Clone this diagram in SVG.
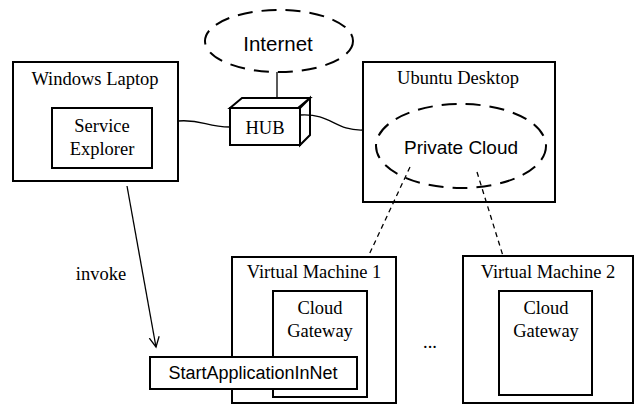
<svg xmlns="http://www.w3.org/2000/svg" width="634" height="404" viewBox="0 0 634 404">
  <style>
    .box { fill: #fff; stroke: #000; stroke-width: 2; }
    .cloud { fill: none; stroke: #000; stroke-width: 2; stroke-dasharray: 15 9; }
    .wire { fill: none; stroke: #000; stroke-width: 1.3; }
    .link { fill: none; stroke: #000; stroke-width: 1.3; stroke-dasharray: 5 4; }
    .serif { font-family: "Liberation Serif", "Times New Roman", serif; font-size: 18.5px; fill: #000; text-anchor: middle; }
    .sans { font-family: "Liberation Sans", Arial, sans-serif; font-size: 18px; fill: #000; text-anchor: middle; }
  </style>
  <defs>
    <marker id="open-arrow" markerWidth="12" markerHeight="12" refX="10" refY="6" orient="auto" markerUnits="userSpaceOnUse">
      <polyline points="0,1 10,6 0,11" fill="none" stroke="#000" stroke-width="1.3"/>
    </marker>
  </defs>
  <rect width="634" height="404" fill="#fff"/>

  <g id="internet">
    <ellipse class="cloud" cx="279" cy="41" rx="74" ry="31"/>
    <text class="sans" x="278" y="51" style="font-size:20.5px">Internet</text>
  </g>

  <g id="hub">
    <polygon class="box" points="230,108 242,98 310,98 298,108"/>
    <polygon class="box" points="300,108 310,98 310,135 300,145"/>
    <rect class="box" x="230" y="108" width="70" height="37"/>
    <text class="serif" x="265" y="134">HUB</text>
  </g>

  <g id="windows-laptop">
    <rect class="box" x="13" y="62" width="165" height="119"/>
    <text class="serif" x="95" y="85">Windows Laptop</text>
  </g>

  <g id="service-explorer">
    <rect class="box" x="52" y="108" width="100" height="60"/>
    <text class="serif" x="102" y="132">Service</text>
    <text class="serif" x="102" y="155">Explorer</text>
  </g>

  <g id="ubuntu-desktop">
    <rect class="box" x="363" y="62" width="192" height="140"/>
    <text class="serif" x="458" y="84">Ubuntu Desktop</text>
  </g>

  <g id="private-cloud">
    <ellipse class="cloud" cx="461" cy="146" rx="85" ry="42"/>
    <text class="sans" x="461" y="154" style="font-size:19px">Private Cloud</text>
  </g>

  <g id="vm1">
    <rect class="box" x="232" y="257" width="164" height="146"/>
    <text class="serif" x="314" y="278">Virtual Machine 1</text>
  </g>

  <g id="cloud-gateway-1">
    <rect class="box" x="273" y="291" width="94" height="106"/>
    <text class="serif" x="320" y="314">Cloud</text>
    <text class="serif" x="320" y="337">Gateway</text>
  </g>

  <g id="start-application">
    <rect class="box" x="150" y="357" width="207" height="32"/>
    <text class="sans" x="253" y="379">StartApplicationInNet</text>
  </g>

  <g id="ellipsis">
    <text class="serif" x="430" y="348">...</text>
  </g>

  <g id="vm2">
    <rect class="box" x="463" y="256" width="170" height="147"/>
    <text class="serif" x="548" y="278">Virtual Machine 2</text>
  </g>

  <g id="cloud-gateway-2">
    <rect class="box" x="499" y="291" width="93" height="104"/>
    <text class="serif" x="546" y="314">Cloud</text>
    <text class="serif" x="546" y="337">Gateway</text>
  </g>

  <!-- connectors, drawn over the boxes -->
  <g id="connectors">
    <line class="wire" x1="277" y1="72" x2="277" y2="98"/>
    <path class="wire" d="M178,121 C202,119 206,127 230,127"/>
    <path class="wire" d="M300,115 C332,113 334,131 363,130"/>
    <line class="link" x1="410" y1="167" x2="368" y2="257"/>
    <line class="link" x1="477" y1="172" x2="503" y2="256"/>
    <line class="wire" x1="127" y1="186" x2="156" y2="347" marker-end="url(#open-arrow)"/>
    <text class="serif" x="101" y="280">invoke</text>
  </g>
</svg>
